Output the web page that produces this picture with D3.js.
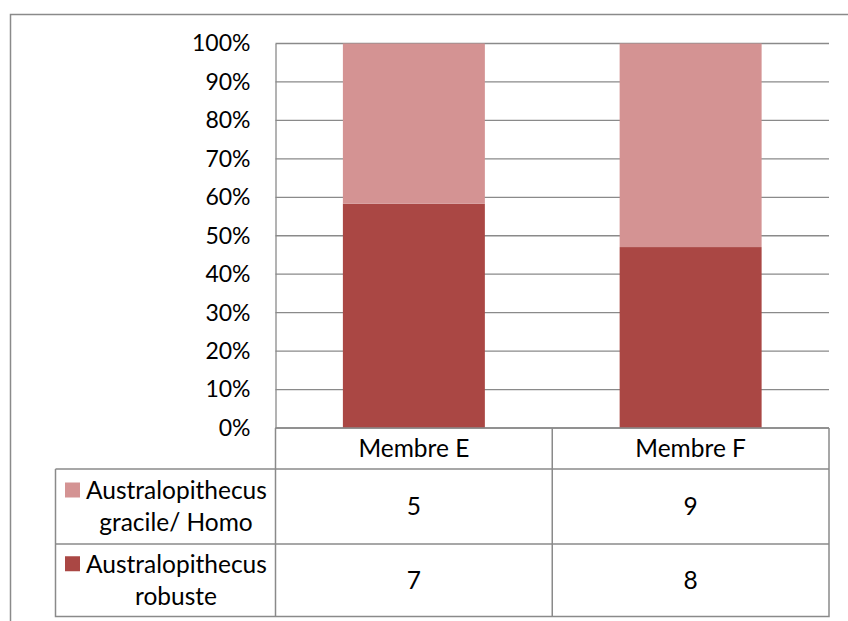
<!DOCTYPE html>
<html>
<head>
<meta charset="utf-8">
<script src="https://cdn.jsdelivr.net/npm/d3@7"></script>
<style>
  html, body { margin: 0; padding: 0; background: #fff; }
  svg { display: block; }
  text { font-family: Lato, "Liberation Sans", sans-serif; fill: #000; }
</style>
</head>
<body>
<svg id="chart" width="848" height="621"></svg>
<script>
// Fossil counts per stratigraphic member
const categories = ["Membre E", "Membre F"];
const seriesNames = [["Australopithecus", "gracile/ Homo"], ["Australopithecus", "robuste"]];
const graciles = [5, 9];
const robustes = [7, 8];
const yTicks = [0, 0.1, 0.2, 0.3, 0.4, 0.5, 0.6, 0.7, 0.8, 0.9, 1];
const colors = ["#D49393", "#AA4744"];

const svg = d3.select("#chart");
const lineColor = "#8a8a8a";
const tickFont = 23;
const tableFont = 24.5;

// outer chart frame (runs off the right and bottom edges)
svg.append("path")
  .attr("d", "M10.5,630 V14.5 H860")
  .attr("fill", "none").attr("stroke", lineColor).attr("stroke-width", 1.5);

const plot = { left: 275.5, right: 829, top: 43.5, bottom: 428 };

const x = d3.scaleBand().domain(categories).range([plot.left, plot.right])
  .paddingInner(0.487).paddingOuter(0.2435);
const y = d3.scaleLinear().domain([0, 1]).range([plot.bottom, plot.top]);

// gridlines
svg.append("g").selectAll("line").data(yTicks).join("line")
  .attr("x1", plot.left).attr("x2", plot.right)
  .attr("y1", d => y(d)).attr("y2", d => y(d))
  .attr("stroke", lineColor).attr("stroke-width", 1.3);

// y axis labels
const yAxis = d3.axisLeft(y).tickValues(yTicks).tickFormat(d3.format(".0%")).tickSize(0).tickPadding(25);
const ga = svg.append("g").attr("transform", `translate(${plot.left},0)`).call(yAxis);
ga.select(".domain").attr("stroke", lineColor).attr("stroke-width", 1.3);
ga.selectAll("text").style("font-size", tickFont + "px").style("font-family", "Lato, 'Liberation Sans', sans-serif").attr("fill", "#000");

// 100% stacked data
const rows = categories.map((c, i) => ({ cat: c, robuste: robustes[i], gracile: graciles[i] }));
const stack = d3.stack().keys(["robuste", "gracile"]).offset(d3.stackOffsetExpand);
const layers = stack(rows);
const layerColor = { robuste: colors[1], gracile: colors[0] };

svg.append("g").selectAll("g").data(layers).join("g")
  .attr("fill", d => layerColor[d.key])
  .selectAll("rect").data(d => d).join("rect")
  .attr("x", d => x(d.data.cat))
  .attr("width", x.bandwidth())
  .attr("y", d => y(d[1]))
  .attr("height", d => y(d[0]) - y(d[1]));

// redraw the baseline over the bars
svg.append("line").attr("x1", plot.left).attr("x2", plot.right)
  .attr("y1", y(0)).attr("y2", y(0)).attr("stroke", lineColor).attr("stroke-width", 1.3);

// data table
const tbl = { legendLeft: 55.5, header: 428, row1: 469, row2: 544, bottom: 616.5 };
const colDiv = x.step() + plot.left;
const tg = svg.append("g").attr("stroke", lineColor).attr("stroke-width", 1.5).attr("fill", "none");
tg.append("path").attr("d",
  `M${plot.left},${tbl.header} V${tbl.bottom} H${plot.right} V${tbl.header}` +
  ` M${colDiv},${tbl.header} V${tbl.bottom}` +
  ` M${tbl.legendLeft},${tbl.row1} H${plot.right}` +
  ` M${tbl.legendLeft},${tbl.row2} H${plot.right}` +
  ` M${tbl.legendLeft},${tbl.row1} V${tbl.bottom} H${plot.left}`);

const colCenter = c => x(c) + x.bandwidth() / 2;
const tt = svg.append("g").style("font-size", tableFont + "px").attr("text-anchor", "middle");
tt.selectAll("text.h").data(categories).join("text").attr("class", "h")
  .attr("x", colCenter).attr("y", (tbl.header + tbl.row1) / 2).attr("dy", "0.35em").text(d => d);

const tableRows = [graciles, robustes];
const rowMids = [(tbl.row1 + tbl.row2) / 2, (tbl.row2 + tbl.bottom) / 2];
tableRows.forEach((vals, r) => {
  tt.selectAll(null).data(vals).join("text")
    .attr("x", (d, i) => colCenter(categories[i])).attr("y", rowMids[r]).attr("dy", "0.35em")
    .text(d => d);
});

// legend keys with series names
const legendColors = [colors[0], colors[1]];
seriesNames.forEach((lines, r) => {
  const mid = rowMids[r];
  svg.append("rect").attr("x", 65).attr("y", mid - 24).attr("width", 15).attr("height", 15)
    .attr("fill", legendColors[r]);
  svg.append("text").attr("x", 86).attr("y", mid - 16).attr("dy", "0.35em")
    .style("font-size", tableFont + "px").text(lines[0]);
  svg.append("text").attr("x", 176).attr("y", mid + 16).attr("dy", "0.35em")
    .attr("text-anchor", "middle").style("font-size", tableFont + "px").text(lines[1]);
});
</script>
</body>
</html>
